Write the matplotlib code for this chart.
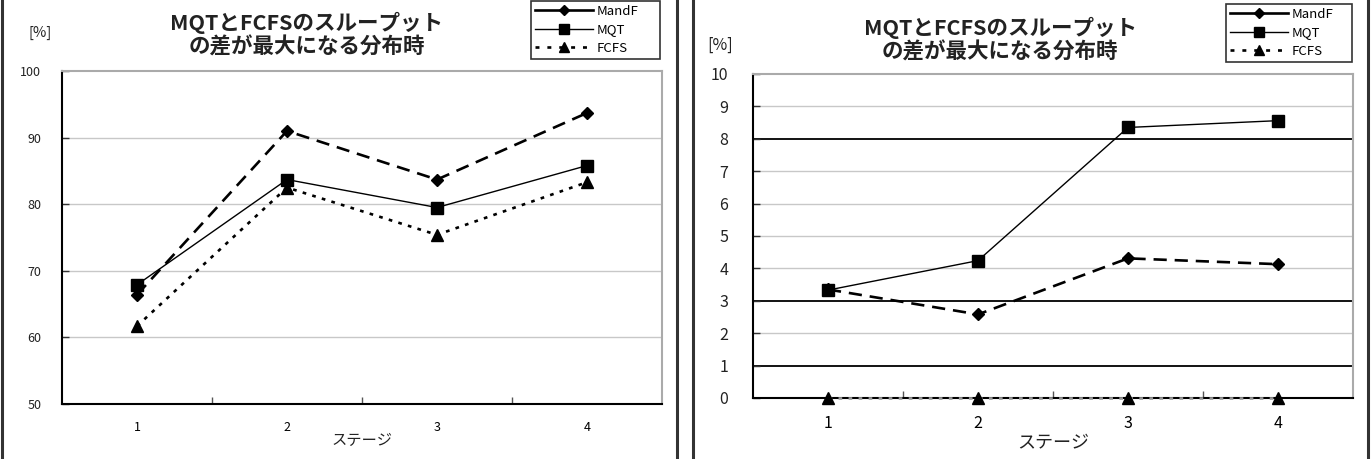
import matplotlib
matplotlib.use("Agg")
import matplotlib.pyplot as plt
from matplotlib.lines import Line2D

plt.rcParams['font.family'] = ['Noto Sans CJK JP', 'DejaVu Sans']

stages = ["1", "2", "3", "4"]
title = "MQTとFCFSのスループット\nの差が最大になる分布時"
xlabel = "ステージ"
ylabel = "[%]"
series_names = ["MandF", "MQT", "FCFS"]

left_mandf = [66.4, 91.0, 83.7, 93.7]
left_mqt = [67.9, 83.7, 79.5, 85.8]
left_fcfs = [61.7, 82.5, 75.4, 83.3]
left_yticks = [50, 60, 70, 80, 90, 100]

right_mandf = [3.35, 2.58, 4.31, 4.13]
right_mqt = [3.33, 4.24, 8.35, 8.56]
right_fcfs = [0, 0, 0, 0]
right_yticks = list(range(0, 11))
right_dark_grid = [1, 3, 8]

W, H = 1371, 459
fig = plt.figure(figsize=(W / 100, H / 100), dpi=100)
fig.patch.set_facecolor("white")

def fx(px):
    return px / W

def fy(py):
    return 1 - py / H

# panel frame lines
for xpx in [1.5, 676.5, 692.5, 1367.5]:
    fig.add_artist(Line2D([fx(xpx), fx(xpx)], [0, 1], color="#333333", lw=2.2,
                          transform=fig.transFigure))

def draw(ax, mandf, mqt, fcfs, yticks, tick_fs, ypad, dark, grid_c, fcfs_color):
    xs = list(range(1, len(stages) + 1))
    ax.set_xlim(0.5, len(stages) + 0.5)
    ax.set_ylim(yticks[0], yticks[-1])
    for v in yticks[1:-1]:
        c = "#000000" if v in dark else grid_c
        ax.axhline(v, color=c, lw=1.3 if v in dark else 1.0, zorder=1)
    ax.plot(xs, mandf, color="black", lw=1.9, dashes=(5, 3), marker="D",
            markersize=6.5, zorder=4)
    ax.plot(xs, mqt, color="black", lw=1.0, marker="s", markersize=8.5, zorder=4)
    ax.plot(xs, fcfs, color=fcfs_color, lw=1.9, dashes=(1.4, 2.4), marker="^",
            markersize=8, markerfacecolor="black", markeredgecolor="black", zorder=4,
            clip_on=False)
    ax.set_xticks(xs)
    ax.set_xticklabels(stages, fontsize=tick_fs)
    ax.set_xticks([x + 0.5 for x in xs[:-1]], minor=True)
    ax.tick_params(axis="x", which="major", length=0, pad=12)
    ax.tick_params(axis="x", which="minor", direction="in", length=5, width=1,
                   color="#555555")
    ax.set_yticks(yticks)
    ax.set_yticklabels([str(v) for v in yticks], fontsize=tick_fs, color="#222222")
    ax.tick_params(axis="y", direction="in", length=5, width=1, pad=ypad,
                   color="#333333")
    for s in ["left", "bottom"]:
        ax.spines[s].set_color("black")
        ax.spines[s].set_linewidth(1.5)
    for s in ["top", "right"]:
        ax.spines[s].set_color("#aaaaaa")
        ax.spines[s].set_linewidth(1.5)

# Left panel
axL = fig.add_axes([fx(62), fy(404), fx(662 - 62), fy(71) - fy(404)])
draw(axL, left_mandf, left_mqt, left_fcfs, left_yticks, 9, 15, [], "#c8c8c8", "black")
fig.text(fx(307), fy(35), title, ha="center", va="center", fontsize=15.5,
         fontweight="bold", linespacing=1.15, color="#222222")
fig.text(fx(40), fy(33), ylabel, ha="center", va="center", fontsize=10.5, color="#222222")
fig.text(fx(362), fy(441), xlabel, ha="center", va="center", fontsize=11, color="#222222")

# Right panel
axR = fig.add_axes([fx(753), fy(398), fx(600), fy(74) - fy(398)])
draw(axR, right_mandf, right_mqt, right_fcfs, right_yticks, 11.5, 18, right_dark_grid,
     "#c8c8c8", "#999999")
fig.text(fx(1000), fy(40), title, ha="center", va="center", fontsize=15.5,
         fontweight="bold", linespacing=1.15, color="#222222")
fig.text(fx(720), fy(45), ylabel, ha="center", va="center", fontsize=11.5, color="#222222")
fig.text(fx(1053), fy(443), xlabel, ha="center", va="center", fontsize=13, color="#222222")

handles = [
    Line2D([], [], color="black", lw=1.9, marker="D", markersize=5.5),
    Line2D([], [], color="black", lw=1.0, marker="s", markersize=7),
    Line2D([], [], color="black", lw=1.9, dashes=(1.5, 3), marker="^", markersize=7),
]

def add_legend(x0, y0, x1, y1):
    leg = fig.legend(handles, series_names, loc="upper left",
                     bbox_to_anchor=(fx(x0), fy(y1), fx(x1) - fx(x0), fy(y0) - fy(y1)),
                     bbox_transform=fig.transFigure, mode="expand",
                     fontsize=9.5, frameon=True, fancybox=False, handlelength=4.4,
                     handletextpad=0.3, borderpad=0.3, labelspacing=0.42,
                     borderaxespad=0)
    leg.get_frame().set_edgecolor("black")
    leg.get_frame().set_linewidth(1.2)
    return leg

add_legend(531, 1, 660, 60)
add_legend(1226, 4, 1352, 63)

fig.savefig("out.png", dpi=100, facecolor="white")
